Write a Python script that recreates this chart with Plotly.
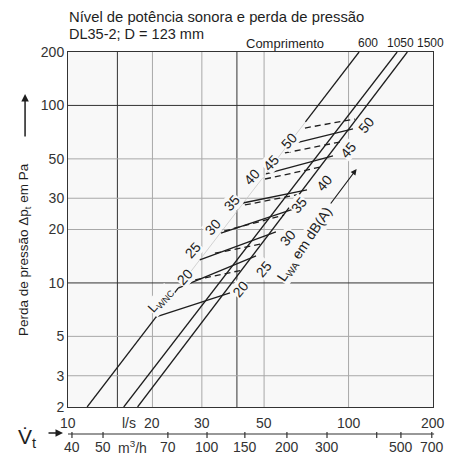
import math
import plotly.graph_objects as go

# ---------------- data ----------------
# pressure loss axis (Pa) and flow axis (l/s)
dp_ticks = [2, 3, 5, 10, 20, 30, 50, 100, 200]
ls_ticks = [10, 20, 30, 50, 100, 200]
m3h_labels = ["40", "50", "70", "100", "150", "200", "300", "", "500", "700"]
m3h_pos_ls = [10.33, 13.33, 22.7, 31.3, 42.7, 60.3, 83.8, 126, 153.7, 198]

grid_q_dark = [15, 40]
grid_q_light = [20, 30, 50, 100]
grid_dp_dark = [10, 100]
grid_dp_light = [3, 5, 20, 30, 50]

# duct length lines (Comprimento 600 / 1050 / 1500)
length_names = ["600", "1050", "1500"]
length_q_at_2pa = [11.7, 15.8, 17.7]
length_q_at_200pa = [109, 149, 162]
dp_span = [2, 200]
# section of the 600 line that is drawn faint (behind the level labels)
faint_600_q = [24.7, 70.2]
faint_600_dp = [9.36, 80.7]

# solid sound-level lines (L_WNC)
solid_q0 = [20.6, 24.7, 29.5, 35.1, 42.0, 50.8, 60.8]
solid_dp0 = [6.43, 9.36, 13.5, 19.1, 28.2, 41.1, 59.9]
solid_q1 = [37.8, 46.8, 55.1, 63.9, 71.1, 88.0, 103.7]
solid_dp1 = [8.78, 14.2, 19.4, 26.1, 33.4, 51.9, 73.7]

# dashed sound-level lines
dashed_q0 = [28.4, 33.4, 36.0, 42.7, 50.4, 59.3, 69.9]
dashed_dp0 = [10.4, 14.7, 19.6, 27.5, 38.5, 54.0, 74.6]
dashed_q1 = [41.7, 49.1, 58.9, 67.7, 79.7, 93.2, 105.4]
dashed_dp1 = [11.8, 16.6, 24.1, 31.7, 45.0, 62.2, 83.8]

level_labels = ["20", "25", "30", "35", "40", "45", "50"]

# ---------------- layout helpers (pixel -> paper) ----------------
L, R, T, B = 68, 31.5, 52, 50
W, H = 465, 457
PW, PH = W - L - R, H - T - B


def px(x):
    return (x - L) / PW


def py(y):
    return (H - B - y) / PH


FONT = "Liberation Sans, Arial, Helvetica, sans-serif"
INK = "#1e1e1e"
PLOTBG = "#f8f8f8"

fig = go.Figure()

# length lines
for i, name in enumerate(length_names):
    if name == "600":
        segs = [
            ([length_q_at_2pa[i], faint_600_q[0]], [dp_span[0], faint_600_dp[0]], INK, 1.3),
            ([faint_600_q[0], faint_600_q[1]], [faint_600_dp[0], faint_600_dp[1]], "#c8c8c8", 0.8),
            ([faint_600_q[1], length_q_at_200pa[i]], [faint_600_dp[1], dp_span[1]], INK, 1.3),
        ]
    else:
        segs = [([length_q_at_2pa[i], length_q_at_200pa[i]], dp_span, INK, 1.3)]
    for xs, ys, c, w in segs:
        fig.add_trace(go.Scatter(x=xs, y=ys, mode="lines", line=dict(color=c, width=w),
                                 hoverinfo="skip", showlegend=False))

for i in range(len(solid_q0)):
    fig.add_trace(go.Scatter(x=[solid_q0[i], solid_q1[i]], y=[solid_dp0[i], solid_dp1[i]],
                             mode="lines", line=dict(color=INK, width=1.3),
                             hoverinfo="skip", showlegend=False))
for i in range(len(dashed_q0)):
    fig.add_trace(go.Scatter(x=[dashed_q0[i], dashed_q1[i]], y=[dashed_dp0[i], dashed_dp1[i]],
                             mode="lines", line=dict(color=INK, width=1.3, dash="6px,4px"),
                             hoverinfo="skip", showlegend=False))

shapes = []
for q in grid_q_light:
    shapes.append(dict(type="line", xref="x", yref="paper", x0=q, x1=q, y0=0, y1=1,
                       line=dict(color="#a8a8a8", width=1), layer="below"))
for q in grid_q_dark:
    shapes.append(dict(type="line", xref="x", yref="paper", x0=q, x1=q, y0=0, y1=1,
                       line=dict(color="#333333", width=1), layer="below"))
for d in grid_dp_light:
    shapes.append(dict(type="line", xref="paper", yref="y", x0=0, x1=1, y0=d, y1=d,
                       line=dict(color="#a8a8a8", width=1), layer="below"))
for d in grid_dp_dark:
    shapes.append(dict(type="line", xref="paper", yref="y", x0=0, x1=1, y0=d, y1=d,
                       line=dict(color="#333333", width=1), layer="below"))

# second (m3/h) axis line with ticks
shapes.append(dict(type="line", xref="paper", yref="paper", x0=0, x1=1.003, y0=py(434), y1=py(434),
                   line=dict(color="#333333", width=1.2)))
for p in m3h_pos_ls:
    shapes.append(dict(type="line", xref="x", yref="paper", x0=p, x1=p, y0=py(432), y1=py(438),
                       line=dict(color="#333333", width=1.2)))

ann = []
# title
ann.append(dict(x=px(67), y=py(17), xref="paper", yref="paper", xanchor="left", yanchor="middle",
                text="Nível de potência sonora e perda de pressão", showarrow=False,
                font=dict(size=14.8, color=INK, family=FONT)))
ann.append(dict(x=px(67), y=py(34), xref="paper", yref="paper", xanchor="left", yanchor="middle",
                text="DL35-2; D = 123 mm", showarrow=False, font=dict(size=14.5, color=INK, family=FONT)))
ann.append(dict(x=px(285), y=py(43), xref="paper", yref="paper", xanchor="center", yanchor="middle",
                text="Comprimento", showarrow=False, font=dict(size=13, color=INK, family=FONT)))
for name, xc in zip(length_names, [368, 401, 431]):
    ann.append(dict(x=px(xc), y=py(43), xref="paper", yref="paper", xanchor="center", yanchor="middle",
                    text=name, showarrow=False, font=dict(size=12, color=INK, family=FONT)))

# flow axis labels (l/s)
for v in ls_ticks:
    ann.append(dict(x=math.log10(v), y=py(423), xref="x", yref="paper", xanchor="center", yanchor="middle",
                    text=str(v), showarrow=False, font=dict(size=14, color="#333", family=FONT)))
ann.append(dict(x=px(129), y=py(423), xref="paper", yref="paper", xanchor="center", yanchor="middle",
                text="l/s", showarrow=False, font=dict(size=14, color="#333", family=FONT)))
for lab, p in zip(m3h_labels, m3h_pos_ls):
    if lab:
        ann.append(dict(x=math.log10(p), y=py(447), xref="x", yref="paper", xanchor="center",
                        yanchor="middle", text=lab, showarrow=False,
                        font=dict(size=14, color="#333", family=FONT)))
ann.append(dict(x=px(133), y=py(447), xref="paper", yref="paper", xanchor="center", yanchor="middle",
                text="m<sup>3</sup>/h", showarrow=False, font=dict(size=14, color="#333", family=FONT)))
# V_t with arrow
ann.append(dict(x=px(27), y=py(438), xref="paper", yref="paper", xanchor="center", yanchor="middle",
                text="V\u0307<sub>t</sub>", showarrow=False, font=dict(size=21, color=INK, family=FONT)))
ann.append(dict(x=px(63), y=py(433), xref="paper", yref="paper", ax=-16, ay=0, text="",
                showarrow=True, arrowhead=2, arrowsize=1, arrowwidth=1.5, arrowcolor=INK))

# y-axis title + arrow
ann.append(dict(x=px(25), y=py(250), xref="paper", yref="paper", xanchor="center", yanchor="middle",
                text="Perda de pressão \u0394p<sub>t</sub> em Pa", textangle=-90, showarrow=False,
                font=dict(size=13.5, color=INK, family=FONT)))
ann.append(dict(x=px(25), y=py(94), xref="paper", yref="paper", ax=0, ay=44, text="",
                showarrow=True, arrowhead=2, arrowsize=1, arrowwidth=1.5, arrowcolor=INK))

# level labels (left: L_WNC, right: L_WA)
left_pos = [(172, 277), (193, 250), (213, 227), (232, 203), (252, 177), (271, 150), (289, 128)]
right_pos = [(241, 302), (264, 269), (288, 238), (312, 205), (337, 170), (361, 137), (379, 112)]
for lab, (x, y) in zip(level_labels, left_pos):
    ann.append(dict(x=px(x), y=py(y), xref="paper", yref="paper", text=lab, textangle=-48,
                    showarrow=False, bgcolor=PLOTBG, borderpad=0,
                    font=dict(size=14, color=INK, family=FONT)))
for lab, (x, y) in zip(level_labels, right_pos):
    ann.append(dict(x=px(x), y=py(y), xref="paper", yref="paper", text=lab, textangle=-50,
                    showarrow=False, bgcolor=PLOTBG, borderpad=0,
                    font=dict(size=14, color=INK, family=FONT)))
ann.append(dict(x=px(143), y=py(318), xref="paper", yref="paper", text="L<sub>WNC</sub>", textangle=-48,
                showarrow=False, bgcolor=PLOTBG, borderpad=0, font=dict(size=13, color=INK, family=FONT)))
ann.append(dict(x=px(305), y=py(245), xref="paper", yref="paper", text="L<sub>WA</sub> em dB(A)",
                textangle=-56, showarrow=False, bgcolor=PLOTBG, borderpad=0,
                font=dict(size=14, color=INK, family=FONT)))
ann.append(dict(x=px(357), y=py(169), xref="paper", yref="paper", ax=-27, ay=36, text="",
                showarrow=True, arrowhead=2, arrowsize=1, arrowwidth=1.2, arrowcolor=INK))

fig.update_layout(
    width=W, height=H,
    margin=dict(l=L, r=R, t=T, b=B),
    paper_bgcolor="white", plot_bgcolor=PLOTBG,
    shapes=shapes, annotations=ann,
    xaxis=dict(type="log", range=[1, 2.30103], showgrid=False, zeroline=False,
               showticklabels=False, ticks="", showline=True, mirror=True,
               linecolor="#333333", linewidth=1),
    yaxis=dict(type="log", range=[0.30103, 2.30103], showgrid=False, zeroline=False,
               tickvals=dp_ticks, ticktext=[str(v) for v in dp_ticks], ticks="",
               tickfont=dict(size=14, color="#333", family=FONT),
               showline=True, mirror=True, linecolor="#333333", linewidth=1),
    font=dict(family=FONT),
)

fig.write_html("out.html", config={"displayModeBar": False},
               post_script="document.body.style.margin='0';document.body.style.overflow='hidden';")
